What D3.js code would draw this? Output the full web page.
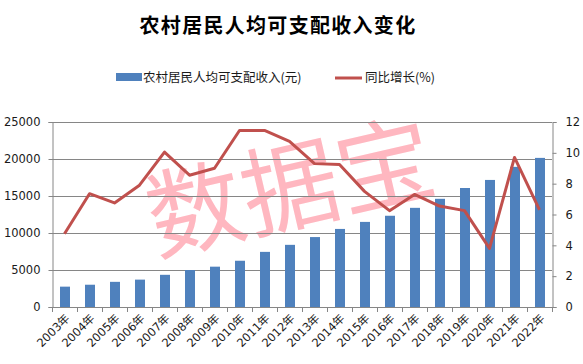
<!DOCTYPE html>
<html lang="zh">
<head>
    <meta charset="UTF-8">
    <title>农村居民人均可支配收入变化</title>
    <script src="https://d3js.org/d3.v7.min.js"></script>
    <style>
        body { margin: 0; background: #fff; }
        text { font-family: "DejaVu Sans", "Noto Sans CJK SC", sans-serif; fill: #1a1a1a; }
    </style>
</head>
<body>
<svg id="svg-container" width="583" height="364"></svg>
<script>
    const years = ["2003年", "2004年", "2005年", "2006年", "2007年", "2008年", "2009年", "2010年", "2011年", "2012年",
        "2013年", "2014年", "2015年", "2016年", "2017年", "2018年", "2019年", "2020年", "2021年", "2022年"];
    const income = [2750, 3010, 3400, 3700, 4350, 5000, 5450, 6250, 7450, 8400,
        9450, 10550, 11500, 12330, 13400, 14620, 16080, 17170, 18940, 20150];
    const growth = [4.75, 7.35, 6.75, 7.9, 10.05, 8.55, 9.0, 11.45, 11.45, 10.75,
        9.3, 9.25, 7.5, 6.25, 7.3, 6.55, 6.25, 3.8, 9.7, 6.3];
    const leftTicks = [0, 5000, 10000, 15000, 20000, 25000];
    const rightTicks = [0, 2, 4, 6, 8, 10, 12];

    const svg = d3.select("#svg-container");
    const plotLeft = 52, plotRight = 552, plotTop = 122, plotBottom = 307;

    const x = d3.scaleBand().domain(years).range([plotLeft, plotRight]);
    const yL = d3.scaleLinear().domain([0, 25000]).range([plotBottom, plotTop]);
    const yR = d3.scaleLinear().domain([0, 12]).range([plotBottom, plotTop]);

    // watermark sits behind the chart
    svg.append("text")
        .attr("transform", "translate(298,222) rotate(-13)")
        .attr("text-anchor", "middle")
        .style("font-family", "'Noto Sans CJK SC', sans-serif")
        .style("font-size", "97px")
        .style("fill", "#ffb7c0")
        .text("数据宝");

    // title
    svg.append("text")
        .attr("x", 278).attr("y", 33)
        .attr("text-anchor", "middle")
        .style("font-family", "'Noto Sans CJK SC', sans-serif")
        .style("font-weight", "bold")
        .style("font-size", "20px")
        .style("letter-spacing", "1.3px")
        .style("fill", "#000")
        .text("农村居民人均可支配收入变化");

    // legend
    svg.append("rect").attr("x", 116).attr("y", 73).attr("width", 26).attr("height", 8).attr("fill", "#4f81bd");
    svg.append("text").attr("x", 143).attr("y", 82)
        .style("font-size", "12.5px")
        .style("font-family", "'Noto Sans CJK SC', sans-serif")
        .text("农村居民人均可支配收入(元)");
    svg.append("line").attr("x1", 335).attr("x2", 362).attr("y1", 78).attr("y2", 78)
        .attr("stroke", "#c0504d").attr("stroke-width", 3);
    svg.append("text").attr("x", 365).attr("y", 82)
        .style("font-size", "12.5px")
        .style("font-family", "'Noto Sans CJK SC', sans-serif")
        .text("同比增长(%)");

    // gridlines
    svg.append("g")
        .selectAll("line")
        .data(leftTicks.slice(1))
        .enter()
        .append("line")
        .attr("x1", plotLeft).attr("x2", plotRight)
        .attr("y1", d => yL(d) + 0.5).attr("y2", d => yL(d) + 0.5)
        .attr("stroke", "#868686");

    // left axis
    const axL = svg.append("g")
        .attr("transform", `translate(${plotLeft + 0.5},0)`)
        .call(d3.axisLeft(yL).tickValues(leftTicks).tickSize(4).tickPadding(8).tickFormat(d3.format("d")));
    axL.select(".domain").attr("stroke", "#868686");
    axL.selectAll(".tick line").attr("stroke", "#868686");
    axL.selectAll("text").style("font-size", "11.5px").style("fill", "#1a1a1a");

    // right axis
    const axR = svg.append("g")
        .attr("transform", `translate(${plotRight + 0.5},0)`)
        .call(d3.axisRight(yR).tickValues(rightTicks).tickSize(4).tickPadding(9));
    axR.select(".domain").attr("stroke", "#868686");
    axR.selectAll(".tick line").attr("stroke", "#868686");
    axR.selectAll("text").style("font-size", "11.5px").style("fill", "#1a1a1a");

    // bottom axis: ticks at category boundaries
    svg.append("line")
        .attr("x1", plotLeft).attr("x2", plotRight)
        .attr("y1", plotBottom + 0.5).attr("y2", plotBottom + 0.5)
        .attr("stroke", "#868686");
    svg.append("g")
        .selectAll("line")
        .data(years.concat(["end"]))
        .enter()
        .append("line")
        .attr("x1", (d, i) => plotLeft + i * x.bandwidth() + 0.5)
        .attr("x2", (d, i) => plotLeft + i * x.bandwidth() + 0.5)
        .attr("y1", plotBottom).attr("y2", plotBottom + 5)
        .attr("stroke", "#868686");

    // bars
    const barW = 10;
    svg.append("g")
        .selectAll("rect")
        .data(income)
        .enter()
        .append("rect")
        .attr("x", (d, i) => x(years[i]) + x.bandwidth() / 2 - barW / 2 + 0.5)
        .attr("y", d => yL(d))
        .attr("width", barW)
        .attr("height", d => plotBottom - yL(d))
        .attr("fill", "#4f81bd");

    // x labels
    svg.append("g")
        .selectAll("text")
        .data(years)
        .enter()
        .append("text")
        .attr("text-anchor", "end")
        .attr("transform", d => `translate(${x(d) + x.bandwidth() / 2 + 6},${plotBottom + 12}) rotate(-45)`)
        .style("font-size", "11.5px")
        .text(d => d);

    // growth line
    const line = d3.line()
        .x((d, i) => x(years[i]) + x.bandwidth() / 2)
        .y(d => yR(d));
    svg.append("path")
        .datum(growth)
        .attr("d", line)
        .attr("fill", "none")
        .attr("stroke", "#c0504d")
        .attr("stroke-width", 3)
        .attr("stroke-linejoin", "round");
</script>
</body>
</html>
